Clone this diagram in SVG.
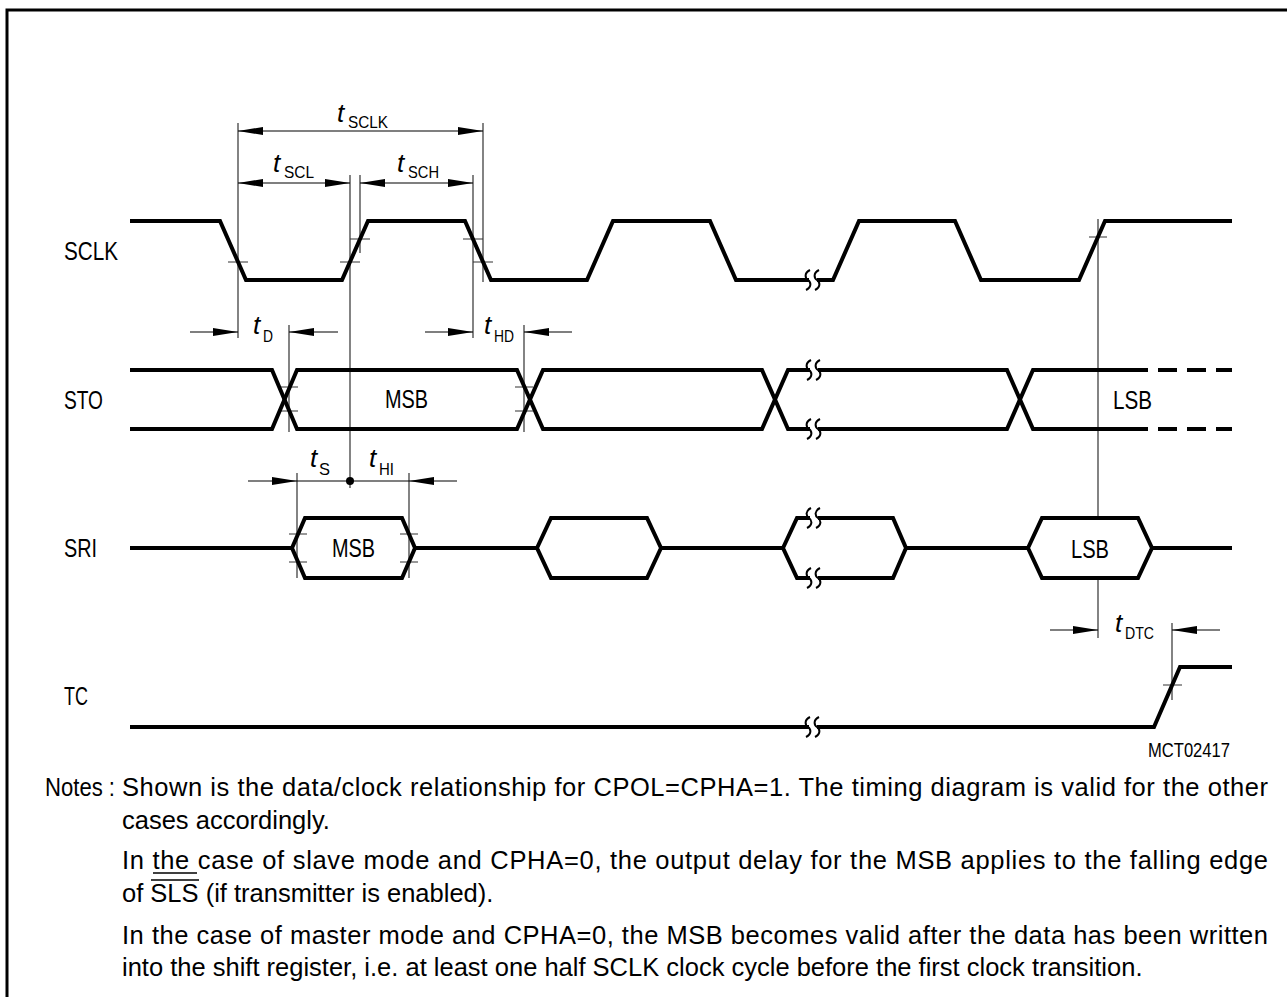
<svg xmlns="http://www.w3.org/2000/svg" width="1287" height="997" viewBox="0 0 1287 997">
<style>
.sig{fill:none;stroke:#000;stroke-width:4;stroke-linejoin:miter}
.thin{fill:none;stroke:#333;stroke-width:1.2}
.dim{fill:none;stroke:#000;stroke-width:1.2}
.lbl{font-family:"Liberation Sans",Arial,sans-serif;font-size:25px;fill:#000}
.t{font-family:"Liberation Sans",Arial,sans-serif;font-size:26px;font-style:italic;fill:#000}
.sub{font-family:"Liberation Sans",Arial,sans-serif;font-size:17px;fill:#000}
.note{font-family:"Liberation Sans",Arial,sans-serif;font-size:25.5px;fill:#000}
.brk{fill:none;stroke:#000;stroke-width:2}
</style>
<defs>
<marker id="ah" viewBox="0 0 25 8" markerWidth="25" markerHeight="8" refX="25" refY="4" orient="auto-start-reverse" markerUnits="userSpaceOnUse">
<path d="M0,0 L25,4 L0,8 Z" fill="#000"/>
</marker>
<g id="brk">
<rect x="-4" y="-6" width="8" height="12" fill="#fff"/>
<path class="brk" d="M-3,-10 C-9,-7 -8,-2 -5,0 C-2,2 -1,7 -7,10"/>
<path class="brk" d="M6,-10 C0,-7 1,-2 4,0 C7,2 8,7 2,10"/>
</g>
</defs>
<rect x="0" y="0" width="1287" height="997" fill="#fff"/>
<path d="M7,997 V10 H1287" fill="none" stroke="#000" stroke-width="3"/>

<g id="connectors">
<path class="thin" d="M238,123 V338 M483,123 V282 M350,175 V488 M360,175 V253 M473,175 V338 M289,325 V432 M524,325 V432 M297,473 V578 M409,473 V578 M1098,219 V638 M1172,623 V700"/>
<path class="thin" d="M228,262 H248 M340,262 H360 M350,239 H370 M463,239 H483 M473,262 H493 M1089,237 H1107 M1163,685 H1182 M280,387 H298 M280,411 H298 M515,387 H533 M515,411 H533 M289,534 H307 M289,562 H307 M400,534 H418 M400,562 H418"/>
<path class="dim" d="M238,131 H483" marker-start="url(#ah)" marker-end="url(#ah)"/>
<path class="dim" d="M238,183 H350" marker-start="url(#ah)" marker-end="url(#ah)"/>
<path class="dim" d="M360,183 H473" marker-start="url(#ah)" marker-end="url(#ah)"/>
<path class="dim" d="M190,332 H238" marker-end="url(#ah)"/>
<path class="dim" d="M338,332 H289" marker-end="url(#ah)"/>
<path class="dim" d="M425,332 H473" marker-end="url(#ah)"/>
<path class="dim" d="M572,332 H524" marker-end="url(#ah)"/>
<path class="dim" d="M248,481 H297" marker-end="url(#ah)"/>
<path class="dim" d="M297,481 H409"/>
<path class="dim" d="M457,481 H409" marker-end="url(#ah)"/>
<path class="dim" d="M1050,630 H1098" marker-end="url(#ah)"/>
<path class="dim" d="M1220,630 H1172" marker-end="url(#ah)"/>
<circle cx="350" cy="481" r="4" fill="#000"/>
</g>

<g id="labels">
<text class="lbl" x="64" y="260" textLength="54" lengthAdjust="spacingAndGlyphs">SCLK</text>
<text class="lbl" x="64" y="409" textLength="39" lengthAdjust="spacingAndGlyphs">STO</text>
<text class="lbl" x="64" y="557" textLength="33" lengthAdjust="spacingAndGlyphs">SRI</text>
<text class="lbl" x="64" y="705" textLength="24" lengthAdjust="spacingAndGlyphs">TC</text>
</g>

<g id="sclk">
<path class="sig" d="M130,221 H220 L246,280 H342 L368,221 H465 L491,280 H587 L613,221 H710 L736,280 H833 L859,221 H955 L981,280 H1079 L1105,221 H1232"/>
<use href="#brk" x="813" y="280"/>
</g>

<g id="sto">
<path class="sig" d="M130,370 H272 L297,429 H517 L543,370 H762 L788,429 H1007 L1033,370 H1148"/>
<path class="sig" d="M130,429 H272 L297,370 H517 L543,429 H762 L788,370 H1007 L1033,429 H1148"/>
<path class="sig" d="M1158,370 H1232 M1158,429 H1232" stroke-dasharray="19 10"/>
<use href="#brk" x="814" y="370"/>
<use href="#brk" x="814" y="429"/>
<text class="lbl" x="385" y="408" textLength="43" lengthAdjust="spacingAndGlyphs">MSB</text>
<text class="lbl" x="1113" y="409" textLength="39" lengthAdjust="spacingAndGlyphs">LSB</text>
</g>

<g id="sri">
<path class="sig" d="M130,548 H292 M415,548 H537 M661,548 H783 M906,548 H1028 M1152,548 H1232"/>
<path class="sig" d="M292,548 L305,518 H402 L415,548 L402,578 H305 Z"/>
<path class="sig" d="M537,548 L551,518 H647 L661,548 L647,578 H551 Z"/>
<path class="sig" d="M783,548 L797,518 H893 L906,548 L893,578 H797 Z"/>
<path class="sig" d="M1028,548 L1042,518 H1138 L1152,548 L1138,578 H1042 Z" style="fill:#fff"/>
<use href="#brk" x="814" y="518"/>
<use href="#brk" x="814" y="578"/>
<text class="lbl" x="332" y="557" textLength="43" lengthAdjust="spacingAndGlyphs">MSB</text>
<text class="lbl" x="1071" y="558" textLength="38" lengthAdjust="spacingAndGlyphs">LSB</text>
</g>

<g id="tc">
<path class="sig" d="M130,727 H1154 L1180,667 H1232"/>
<use href="#brk" x="813" y="727"/>
<text class="lbl" x="1148" y="757" textLength="82" lengthAdjust="spacingAndGlyphs" style="font-size:20px">MCT02417</text>
</g>

<g id="timing-labels">
<text class="t" x="337" y="122">t</text><text class="sub" x="348" y="128" textLength="40" lengthAdjust="spacingAndGlyphs">SCLK</text>
<text class="t" x="273" y="172">t</text><text class="sub" x="284" y="178" textLength="30" lengthAdjust="spacingAndGlyphs">SCL</text>
<text class="t" x="397" y="172">t</text><text class="sub" x="408" y="178" textLength="31" lengthAdjust="spacingAndGlyphs">SCH</text>
<text class="t" x="253" y="334">t</text><text class="sub" x="263" y="342" textLength="10" lengthAdjust="spacingAndGlyphs">D</text>
<text class="t" x="484" y="334">t</text><text class="sub" x="494" y="342" textLength="20" lengthAdjust="spacingAndGlyphs">HD</text>
<text class="t" x="310" y="467">t</text><text class="sub" x="319" y="475" textLength="11" lengthAdjust="spacingAndGlyphs">S</text>
<text class="t" x="369" y="467">t</text><text class="sub" x="379" y="475" textLength="15" lengthAdjust="spacingAndGlyphs">HI</text>
<text class="t" x="1115" y="632">t</text><text class="sub" x="1125" y="639" textLength="29" lengthAdjust="spacingAndGlyphs">DTC</text>
</g>

<g id="notes">
<text class="note" x="45" y="796" textLength="70" lengthAdjust="spacingAndGlyphs">Notes :</text>
<text class="note" x="122" y="796" textLength="1146" lengthAdjust="spacing">Shown is the data/clock relationship for CPOL=CPHA=1. The timing diagram is valid for the other</text>
<text class="note" x="122" y="829">cases accordingly.</text>
<text class="note" x="122" y="869" textLength="1146" lengthAdjust="spacing">In the case of slave mode and CPHA=0, the output delay for the MSB applies to the falling edge</text>
<text class="note" x="122" y="902">of SLS (if transmitter is enabled).</text>
<text class="note" x="122" y="944" textLength="1146" lengthAdjust="spacing">In the case of master mode and CPHA=0, the MSB becomes valid after the data has been written</text>
<text class="note" x="122" y="976">into the shift register, i.e. at least one half SCLK clock cycle before the first clock transition.</text>
<path d="M153,873 H197 M151,880 H199" stroke="#000" stroke-width="1.5" fill="none"/>
</g>
</svg>
